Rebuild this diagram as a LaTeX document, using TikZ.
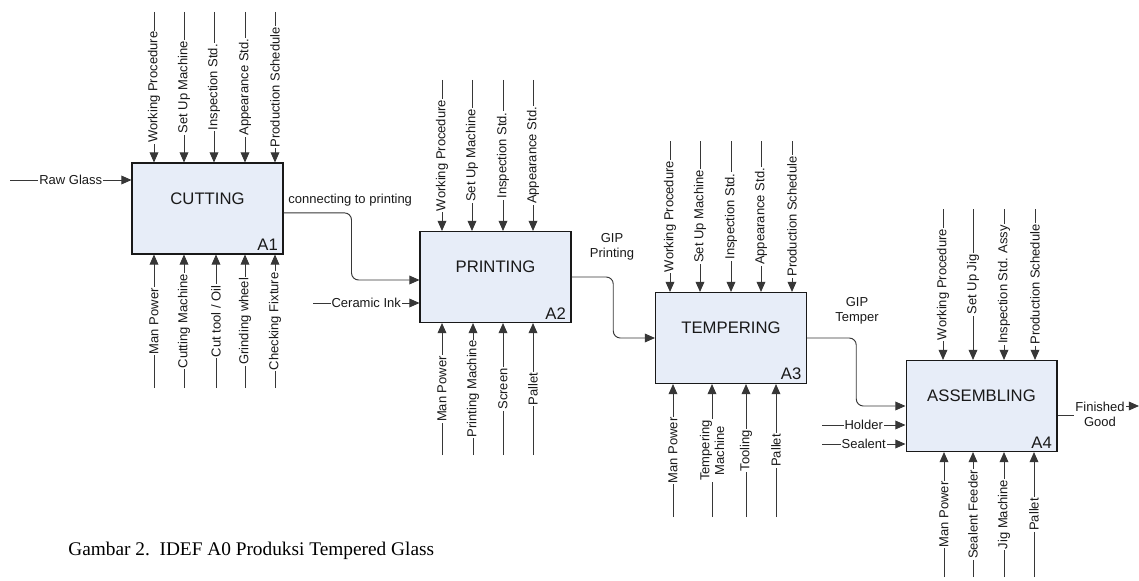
\documentclass[tikz,border=0pt]{standalone}
\usepackage{fontspec}
\setmainfont{Liberation Serif}
\setsansfont{Liberation Sans}
\usetikzlibrary{arrows.meta,positioning,calc}
\definecolor{boxfill}{RGB}{231,237,248}
\definecolor{ink}{RGB}{25,25,25}
\definecolor{wire}{RGB}{55,55,55}

\begin{document}
\begin{tikzpicture}[x=0.02cm, y=-0.02cm,
    >={Triangle[length=5.8pt,width=5pt]},
    proc/.style={draw=ink, fill=boxfill, line width=0.6pt, minimum width=3.02cm, minimum height=1.82cm, inner sep=0pt},
    pname/.style={font=\sffamily\fontsize{9.5}{11}\selectfont, text=ink},
    pnum/.style={font=\sffamily\fontsize{9.5}{11}\selectfont, text=ink, anchor=south east, inner xsep=3pt, inner ysep=2pt},
    icom/.style={->, draw=wire, line width=0.55pt},
    flow/.style={icom, rounded corners=4pt},
    lbl/.style={font=\sffamily\fontsize{7.4}{8.4}\selectfont, text=ink, fill=white, inner sep=0.6pt, align=center},
    vlbl/.style={lbl, rotate=90}]
  \useasboundingbox (0,0) rectangle (1139,581);

  \node[proc] (cut) at (207.5,208.5) {};
  \node[proc] (print) at (495.5,277) {};
  \node[proc] (temper) at (731,338) {};
  \node[proc] (assy) at (981.5,406) {};

  \node[pname] (cutname) at ([yshift=5.5pt]cut.center) {CUTTING};
  \node[pname] (printname) at ([yshift=5.6pt]print.center) {PRINTING};
  \node[pname] (tempername) at ([yshift=5.6pt]temper.center) {TEMPERING};
  \node[pname] (assyname) at ([yshift=5.6pt]assy.center) {ASSEMBLING};
  \node[pnum] (cutnum) at (cut.south east) {A1};
  \node[pnum] (printnum) at (print.south east) {A2};
  \node[pnum] (tempernum) at (temper.south east) {A3};
  \node[pnum] (assynum) at (assy.south east) {A4};

  \foreach \x/\t [count=\i] in {154/Working Procedure,184/Set Up Machine,214/Inspection Std.,245/Appearance Std.,275/Production Schedule}
    \draw[icom] (\x,12) coordinate (cutc\i) -- (cutc\i |- cut.north) node[vlbl, midway] {\t};
  \foreach \x/\t [count=\i] in {154/Man Power,184/Cutting Machine,216/{Cut tool / Oil},245/Grinding wheel,275/Checking Fixture}
    \draw[icom] (\x,388) coordinate (cutm\i) -- (cutm\i |- cut.south) node[vlbl, midway] {\t};

  \foreach \x/\t [count=\i] in {442/Working Procedure,472/Set Up Machine,503/Inspection Std.,533/Appearance Std.}
    \draw[icom] (\x,80) coordinate (printc\i) -- (printc\i |- print.north) node[vlbl, midway] {\t};
  \foreach \x/\t [count=\i] in {442/Man Power,473/Printing Machine,503/Screen,533/Pallet}
    \draw[icom] (\x,455) coordinate (printm\i) -- (printm\i |- print.south) node[vlbl, midway] {\t};

  \foreach \x/\t [count=\i] in {670/Working Procedure,700/Set Up Machine,731/Inspection Std.,761/Appearance Std.,792/Production Schedule}
    \draw[icom] (\x,141) coordinate (temperc\i) -- (temperc\i |- temper.north) node[vlbl, midway] {\t};
  \foreach \x/\t [count=\i] in {673/Man Power,712/Tempering\\Machine,746/Tooling,776/Pallet}
    \draw[icom] (\x,517) coordinate (temperm\i) -- (temperm\i |- temper.south) node[vlbl, midway] {\t};

  \foreach \x/\t [count=\i] in {943/Working Procedure,973/Set Up Jig,1004/Inspection Std. Assy,1035/Production Schedule}
    \draw[icom] (\x,209) coordinate (assyc\i) -- (assyc\i |- assy.north) node[vlbl, midway] {\t};
  \foreach \x/\t [count=\i] in {944/Man Power,973/Sealent Feeder,1004/Jig Machine,1034/Pallet}
    \draw[icom] (\x,577) coordinate (assym\i) -- (assym\i |- assy.south) node[vlbl, midway] {\t};

  \coordinate (raw) at (10,180);
  \draw[icom] (raw) -- (raw -| cut.west) node[lbl, midway] {Raw Glass};
  \coordinate (ink) at (313,303);
  \draw[icom] (ink) -- (ink -| print.west) node[lbl, midway] {Ceramic Ink};
  \coordinate (hold) at (822,425);
  \draw[icom] (hold) -- (hold -| assy.west) node[lbl, midway] {Holder};
  \coordinate (seal) at (822,444);
  \draw[icom] (seal) -- (seal -| assy.west) node[lbl, midway] {Sealent};

  \draw[flow] ([yshift=-2.5pt]cut.east) -| ($(cut.east)!0.5!(print.west)$) |- ([yshift=-1.7pt]print.west);
  \draw[flow] (print.east) -| ($(print.east)!0.5!(temper.west)$) |- (temper.west);
  \draw[flow] (temper.east) -| ($(temper.east)!0.5!(assy.west)$) |- (assy.west);
  \node[lbl, fill=none, anchor=base west] (conlbl) at (287,203) {connecting to printing};
  \node[lbl, fill=none] (gipp) at (612,247) {GIP\\Printing};
  \node[lbl, fill=none] (gipt) at (857,311) {GIP\\Temper};

  \coordinate (out) at (1139,406);
  \draw[icom] (assy.east |- 0,415) -- (1100,415) -- (1100,406) -- (out);
  \node[lbl] (fin) at (1100,414) {Finished\\Good};

  \node[font=\fontsize{11}{13}\selectfont, anchor=base west, inner sep=0pt] (cap) at (68,555) {Gambar 2.\hspace{5.5pt}IDEF A0 Produksi Tempered Glass};
\end{tikzpicture}
\end{document}
